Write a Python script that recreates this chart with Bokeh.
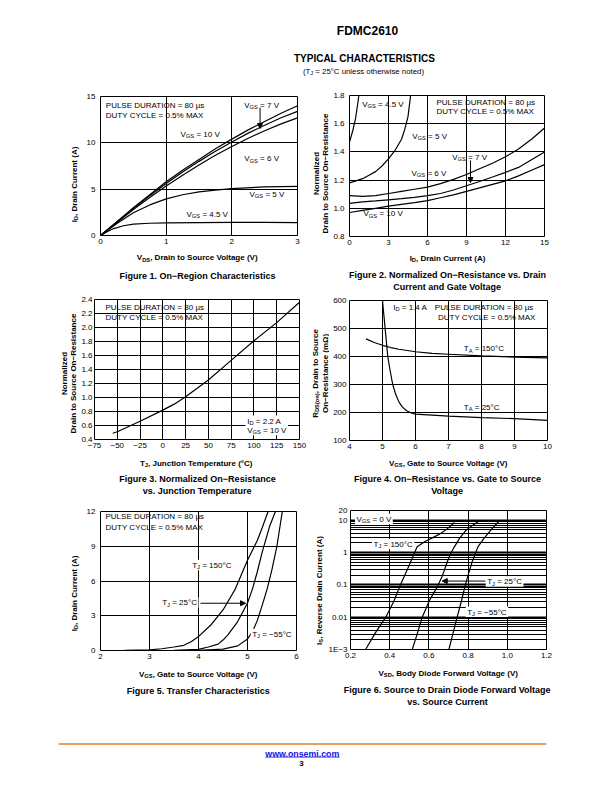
import math
from bokeh.plotting import figure
from bokeh.layouts import column, row
from bokeh.models import (Label, Arrow, NormalHead, FixedTicker, BoxAnnotation, Grid,
                          Range1d, PrintfTickFormatter, BasicTickFormatter, Span)
from bokeh.embed import file_html
from bokeh.resources import INLINE

FONT = "Liberation Sans"

# ---------------- data ----------------
# Figure 1: On-Region Characteristics (VDS in V, ID in A)
f1_vds = [0, 0.25, 0.5, 0.75, 1.0, 1.25, 1.5, 1.75, 2.0, 2.25, 2.5, 2.75, 3.0]
f1_id_vgs10 = [0, 1.5, 3.0, 4.4, 5.8, 7.05, 8.2, 9.35, 10.4, 11.4, 12.3, 13.2, 14.0]
f1_id_vgs7 = [0, 1.45, 2.9, 4.3, 5.6, 6.85, 8.0, 9.1, 10.1, 11.05, 11.9, 12.7, 13.4]
f1_id_vgs6 = [0, 1.4, 2.8, 4.1, 5.35, 6.5, 7.6, 8.65, 9.6, 10.5, 11.3, 12.05, 12.7]
f1_vds_5 = [0, 0.25, 0.5, 0.75, 1.0, 1.25, 1.5, 1.75, 2.0, 2.5, 3.0]
f1_id_vgs5 = [0, 1.3, 2.45, 3.3, 3.95, 4.4, 4.7, 4.9, 5.05, 5.25, 5.3]
f1_vds_45 = [0, 0.1, 0.2, 0.35, 0.5, 0.75, 1.0, 1.5, 2.0, 2.5, 3.0]
f1_id_vgs45 = [0, 0.4, 0.75, 1.05, 1.22, 1.32, 1.36, 1.4, 1.42, 1.42, 1.4]
f1_xticks = [0, 1, 2, 3]
f1_yticks = [0, 5, 10, 15]
f1_arrow = [2.43, 13.8, 2.43, 11.55]

# Figure 2: normalized RDS(on) vs ID
f2_id_45 = [0, 0.25, 0.46, 0.6, 0.72]
f2_r_45 = [1.47, 1.55, 1.635, 1.72, 1.80]
f2_id_5 = [0, 0.5, 1.0, 1.5, 2.0, 2.5, 3.0, 3.5, 4.0, 4.25, 4.5, 4.7]
f2_r_5 = [1.18, 1.195, 1.21, 1.235, 1.26, 1.30, 1.35, 1.41, 1.49, 1.56, 1.65, 1.80]
f2_id = [0, 1, 2, 3, 4, 5, 6, 7, 8, 9, 10, 11, 12, 13, 14, 15]
f2_r_6 = [1.09, 1.085, 1.09, 1.105, 1.12, 1.135, 1.15, 1.175, 1.205, 1.24, 1.28, 1.32, 1.365, 1.42, 1.49, 1.57]
f2_r_7 = [1.035, 1.045, 1.052, 1.06, 1.068, 1.078, 1.09, 1.105, 1.13, 1.16, 1.19, 1.222, 1.255, 1.29, 1.345, 1.40]
f2_r_10 = [0.97, 0.985, 1.0, 1.015, 1.028, 1.04, 1.055, 1.075, 1.095, 1.12, 1.145, 1.17, 1.195, 1.23, 1.27, 1.31]
f2_xticks = [0, 3, 6, 9, 12, 15]
f2_yticks = [0.8, 1.0, 1.2, 1.4, 1.6, 1.8]
f2_arrow = [9.31, 1.339, 9.31, 1.183]

# Figure 3: normalized RDS(on) vs TJ
f3_tj = [-55, -50, -37.5, -25, 0, 12.5, 25, 50, 75, 100, 125, 150]
f3_r = [0.49, 0.51, 0.585, 0.66, 0.82, 0.905, 1.01, 1.25, 1.53, 1.81, 2.07, 2.36]
f3_xticks = [-75, -50, -25, 0, 25, 50, 75, 100, 125, 150]
f3_xlabels = ["−75", "−50", "−25", "0", "25", "50", "75", "100", "125", "150"]
f3_yticks = [0.4, 0.6, 0.8, 1.0, 1.2, 1.4, 1.6, 1.8, 2.0, 2.2, 2.4]

# Figure 4: RDS(on) (mOhm) vs VGS
f4_vgs_25 = [5.0, 5.04, 5.08, 5.12, 5.16, 5.23, 5.31, 5.4, 5.5, 5.6, 5.72, 5.85, 6.0, 7.0, 8.0, 9.0, 10.0]
f4_r_25 = [600, 550, 500, 450, 400, 350, 300, 265, 237, 220, 207, 199, 194, 187, 182, 178, 172]
f4_vgs_150 = [4.5, 4.75, 5.0, 5.25, 5.5, 6.0, 6.5, 7.0, 8.0, 9.0, 10.0]
f4_r_150 = [463, 450, 440, 432, 426, 417, 411, 408, 402, 398, 395]
f4_xticks = [4, 5, 6, 7, 8, 9, 10]
f4_yticks = [100, 200, 300, 400, 500, 600]

# Figure 5: transfer characteristics
f5_vgs_150 = [2.0, 2.5, 3.0, 3.25, 3.5, 3.7, 3.85, 4.0, 4.25, 4.5, 4.75, 5.0, 5.2, 5.3, 5.42]
f5_id_150 = [0, 0.01, 0.05, 0.15, 0.3, 0.45, 0.75, 1.2, 2.2, 3.5, 5.3, 7.8, 9.5, 10.6, 12.0]
f5_vgs_25 = [2.0, 3.0, 3.5, 4.0, 4.2, 4.4, 4.5, 4.6, 4.8, 5.0, 5.1, 5.2, 5.3, 5.45, 5.57]
f5_id_25 = [0, 0.0, 0.02, 0.1, 0.3, 0.55, 0.9, 1.35, 2.5, 4.1, 5.3, 6.8, 8.5, 10.7, 12.0]
f5_vgs_m55 = [2.0, 4.0, 4.5, 4.8, 5.0, 5.1, 5.2, 5.3, 5.4, 5.5, 5.6, 5.71]
f5_id_m55 = [0, 0.02, 0.12, 0.4, 1.0, 1.6, 2.6, 3.9, 5.3, 7.0, 9.0, 12.0]
f5_xticks = [2, 3, 4, 5, 6]
f5_yticks = [0, 3, 6, 9, 12]
f5_arrow = [4.04, 4.08, 4.96, 4.08]

# Figure 6: body diode forward voltage (log IS)
f6_vsd_150 = [0.277, 0.33, 0.38, 0.42, 0.455, 0.49, 0.52, 0.54, 0.58, 0.62, 0.66, 0.70, 0.73]
f6_is_150 = [0.001, 0.0035, 0.01, 0.03, 0.1, 0.3, 0.8, 1.5, 2.2, 2.9, 3.9, 5.8, 8.5]
f6_vsd_25 = [0.515, 0.54, 0.566, 0.605, 0.642, 0.67, 0.693, 0.71, 0.727, 0.757, 0.787, 0.82, 0.855]
f6_is_25 = [0.001, 0.003, 0.01, 0.035, 0.085, 0.2, 0.5, 0.9, 1.4, 2.8, 4.7, 6.8, 9.3]
f6_vsd_m55 = [0.702, 0.722, 0.744, 0.765, 0.783, 0.80, 0.82, 0.85, 0.88, 0.92, 0.957]
f6_is_m55 = [0.001, 0.003, 0.01, 0.03, 0.085, 0.2, 0.5, 1.5, 2.7, 5.3, 9.3]
f6_xticks = [0.2, 0.4, 0.6, 0.8, 1.0, 1.2]
f6_yticks = [0.001, 0.01, 0.1, 1, 10, 20]
f6_ylabels = ["1E−3", "0.01", "0.1", "1", "10", "20"]
f6_decades = [0.001, 0.01, 0.1, 1, 10]
f6_minor = [k * d for d in f6_decades for k in range(1, 10) if k * d <= 20] + [20]
f6_arrow = [0.889, 0.131, 0.668, 0.131]

# ---------------- text metrics (Arial / Liberation Sans) ----------------
_U = "ABCDEFGHIJKLMNOPQRSTUVWXYZ"
_L = "abcdefghijklmnopqrstuvwxyz"
REG = dict(zip(_U, [667, 667, 722, 722, 667, 611, 778, 722, 278, 500, 667, 556, 833, 722, 778, 667, 778, 722, 667, 611, 722, 667, 944, 667, 667, 611]))
REG.update(zip(_L, [556, 556, 500, 556, 556, 278, 556, 556, 222, 222, 500, 222, 833, 556, 556, 556, 556, 333, 500, 278, 556, 500, 722, 500, 500, 500]))
BOLD = dict(zip(_U, [722, 722, 722, 722, 667, 611, 778, 722, 278, 556, 722, 611, 833, 722, 778, 667, 778, 722, 667, 611, 722, 667, 944, 667, 667, 611]))
BOLD.update(zip(_L, [556, 611, 556, 611, 556, 333, 611, 611, 278, 278, 556, 278, 889, 611, 611, 611, 611, 389, 556, 333, 611, 556, 778, 556, 556, 500]))
for _t in (REG, BOLD):
    _t.update({" ": 278, "(": 333, ")": 333, ",": 278, ".": 278, "%": 889, "=": 584,
               "°": 400, "µ": 576, "−": 584, "Ω": 768, "-": 333, "/": 278})
    _t.update({d: 556 for d in "0123456789"})

BASE_K = 0.09   # anchor offset (em) from cap centre, as the renderer places the baseline
SUB_K = 0.2     # subscript drop (em of main size)
SUB_S = 0.72    # subscript scale


def tw(s, fs, bold):
    t = BOLD if bold else REG
    return sum(t.get(c, 556) for c in s) / 1000.0 * fs


def parse(s):
    parts, buf, i = [], "", 0
    while i < len(s):
        if s.startswith("_{", i):
            if buf:
                parts.append((buf, False))
                buf = ""
            j = s.index("}", i)
            parts.append((s[i + 2:j], True))
            i = j + 1
        else:
            buf += s[i]
            i += 1
    if buf:
        parts.append((buf, False))
    return parts


PANES = []


class Pane:
    """Places text in page pixel coordinates, relative to a figure's frame."""

    def __init__(self, p, left, bottom):
        self.p, self.left, self.bottom = p, left, bottom
        self.boxes, self.labels = [], []
        PANES.append(self)

    def _lab(self, t, sx, sy, f, style, angle, color):
        self.labels.append(Label(x=sx, y=sy, x_units="screen", y_units="screen", angle=angle,
                                 text=t, text_font=FONT, text_font_size="%.2fpx" % f,
                                 text_font_style=style, text_align="left",
                                 text_baseline="alphabetic", text_color=color))

    def text(self, s, px, py, fs=8, bold=False, align="left", angle=0, bg=False, color="black"):
        parts = parse(s)
        ws = [tw(t, fs * (SUB_S if b else 1), bold) for t, b in parts]
        W = sum(ws)
        if bg and angle == 0:
            st = px - (W / 2 if align == "center" else 0)
            self.boxes.append(BoxAnnotation(
                left=st - 1.5 - self.left, right=st + W + 1.5 - self.left,
                top=self.bottom - (py - 0.62 * fs), bottom=self.bottom - (py + 0.68 * fs),
                left_units="screen", right_units="screen", top_units="screen", bottom_units="screen",
                fill_color="white", fill_alpha=1.0, line_color=None))
        style = "bold" if bold else "normal"
        pos = px - (W / 2 if align == "center" else 0) if angle == 0 else py + (W / 2 if align == "center" else 0)
        base = (py if angle == 0 else px) + BASE_K * fs
        for (t, b), w in zip(parts, ws):
            f = fs * SUB_S if b else fs
            lead = tw(t[:len(t) - len(t.lstrip(" "))], f, bold)
            tt = t.strip(" ")
            off = base + (SUB_K * fs if b else 0)
            if tt:
                if angle == 0:
                    self._lab(tt, pos + lead - self.left, self.bottom - off, f, style, 0, color)
                else:
                    self._lab(tt, off - self.left, self.bottom - (pos - lead), f, style, math.pi / 2, color)
            pos = pos + w if angle == 0 else pos - w

    def finish(self):
        for b in self.boxes:
            self.p.add_layout(b)
        for l in self.labels:
            self.p.add_layout(l)


def text_fig(x0, y0, w, h, fl=0, fw=None):
    fw = w - fl if fw is None else fw
    p = figure(x_range=Range1d(0, 1), y_range=Range1d(0, h), frame_width=fw, frame_height=h,
               min_border_left=fl, min_border_right=w - fl - fw, min_border_top=0, min_border_bottom=0,
               x_axis_location=None, y_axis_location=None, output_backend="svg", toolbar_location=None)
    p.outline_line_color = None
    p.grid.visible = False
    p.background_fill_color = "white"
    p.border_fill_color = "white"
    return Pane(p, x0 + fl, y0 + h)


def make_cell(x0, y0, Wc, Hc, L1, frame_left, ft, fw, fh, xr, yr, xticks, yticks, ylog=False, ystand=5):
    fb = 14
    fl = frame_left - (x0 + L1)
    wch = Wc - L1
    hch = ft + fh + fb
    p = figure(x_range=Range1d(*xr), y_range=Range1d(*yr), frame_width=fw, frame_height=fh,
               min_border_left=fl, min_border_right=wch - fl - fw, min_border_top=ft,
               min_border_bottom=fb, y_axis_type="log" if ylog else "linear",
               output_backend="svg", toolbar_location=None)
    p.outline_line_color = "black"
    p.outline_line_width = 1
    p.background_fill_color = "white"
    p.border_fill_color = "white"
    p.xaxis.ticker = FixedTicker(ticks=xticks)
    p.yaxis.ticker = FixedTicker(ticks=yticks)
    p.grid.grid_line_color = "black"
    p.grid.grid_line_width = 1
    p.grid.grid_line_alpha = 1.0
    for ax in p.axis:
        ax.axis_line_color = None
        ax.major_tick_line_color = None
        ax.minor_tick_line_color = None
        ax.major_tick_out = 0
        ax.major_tick_in = 0
        ax.minor_tick_out = 0
        ax.minor_tick_in = 0
        ax.major_label_text_font = FONT
        ax.major_label_text_font_size = "8px"
        ax.major_label_text_color = "black"
    p.xaxis.major_label_standoff = 3
    p.yaxis.major_label_standoff = ystand
    chart = Pane(p, frame_left, y0 + ft + fh)
    ylab = text_fig(x0, y0, L1, hch)
    below = text_fig(x0, y0 + hch, Wc, Hc - hch)
    lay = column(row(ylab.p, p), below.p)
    return lay, chart, ylab, below


def curve(pane, x, y):
    pane.p.line(x, y, line_color="black", line_width=1.2)


def arrow(pane, a):
    pane.p.add_layout(Arrow(end=NormalHead(size=5, line_color="black", fill_color="black", line_width=1),
                            x_start=a[0], y_start=a[1], x_end=a[2], y_end=a[3],
                            line_color="black", line_width=1))


PD = "PULSE DURATION = 80 µs"
DC = "DUTY CYCLE = 0.5% MAX"
LW, RX, RW = 308, 308, 296

# ---------------- header ----------------
HD = text_fig(0, 0, 604, 84)
HD.text("FDMC2610", 309, 29.5, fs=12, bold=True, align="center")
HD.text("TYPICAL CHARACTERISTICS", 306, 57.5, fs=10, bold=True, align="center")
HD.text("(T_{J} = 25°C unless otherwise noted)", 305, 70, fs=7.8, align="center")

# ---------------- Figure 1 ----------------
L1_, A, Ay, Ab = make_cell(0, 84, LW, 210, 80, 100, 12, 197, 139, (0, 3), (0, 15), f1_xticks, f1_yticks)
curve(A, f1_vds, f1_id_vgs10)
curve(A, f1_vds, f1_id_vgs7)
curve(A, f1_vds, f1_id_vgs6)
curve(A, f1_vds_5, f1_id_vgs5)
curve(A, f1_vds_45, f1_id_vgs45)
arrow(A, f1_arrow)
A.text(PD, 105.3, 104.3)
A.text(DC, 105.3, 114.3)
A.text("V_{GS} = 7 V", 243.7, 104.3)
A.text("V_{GS} = 10 V", 180, 133)
A.text("V_{GS} = 6 V", 243.7, 157.7)
A.text("V_{GS} = 5 V", 249, 193)
A.text("V_{GS} = 4.5 V", 186, 213)
Ay.text("I_{D}, Drain Current (A)", 73.5, 172, bold=True, align="center", angle=90)
Ab.text("V_{DS}, Drain to Source Voltage (V)", 197, 256.7, bold=True, align="center")
Ab.text("Figure 1. On−Region Characteristics", 197, 274.3, fs=9, bold=True, align="center")

# ---------------- Figure 2 ----------------
L2_, B, By, Bb = make_cell(RX, 84, RW, 210, 22, 349, 11, 195, 141, (0, 15), (0.8, 1.8), f2_xticks, f2_yticks)
B.p.yaxis.formatter = PrintfTickFormatter(format="%.1f")
curve(B, f2_id_45, f2_r_45)
curve(B, f2_id_5, f2_r_5)
curve(B, f2_id, f2_r_6)
curve(B, f2_id, f2_r_7)
curve(B, f2_id, f2_r_10)
arrow(B, f2_arrow)
B.text("V_{GS} = 4.5 V", 361.7, 103.3)
B.text(PD, 436, 101)
B.text(DC, 436, 110.5)
B.text("V_{GS} = 5 V", 411.7, 135)
B.text("V_{GS} = 7 V", 451.7, 156)
B.text("V_{GS} = 6 V", 411, 172.3)
B.text("V_{GS} = 10 V", 363, 212.7)
By.text("Normalized", 315, 162, bold=True, align="center", angle=90)
By.text("Drain to Source On−Resistance", 324.5, 162, bold=True, align="center", angle=90)
Bb.text("I_{D}, Drain Current (A)", 447, 257, bold=True, align="center")
Bb.text("Figure 2. Normalized On−Resistance vs. Drain", 447, 274, fs=9, bold=True, align="center")
Bb.text("Current and Gate Voltage", 447, 286, fs=9, bold=True, align="center")

# ---------------- Figure 3 ----------------
L3_, C, Cy, Cb = make_cell(0, 294, LW, 206, 77, 94, 5, 205, 140, (-75, 150), (0.4, 2.4), f3_xticks, f3_yticks,
                           ystand=2)
C.p.yaxis.formatter = PrintfTickFormatter(format="%.1f")
C.p.xaxis.major_label_overrides = dict(zip(f3_xticks, f3_xlabels))
curve(C, f3_tj, f3_r)
C.text(PD, 105, 306)
C.text(DC, 105, 316.7)
C.text("I_{D} = 2.2 A", 246.7, 420, bg=True)
C.text("V_{GS} = 10 V", 246.7, 429.3, bg=True)
Cy.text("Normalized", 63.5, 368, bold=True, align="center", angle=90)
Cy.text("Drain to Source On−Resistance", 72.2, 368, bold=True, align="center", angle=90)
Cb.text("T_{J}, Junction Temperature (°C)", 196, 462, bold=True, align="center")
Cb.text("Figure 3. Normalized On−Resistance", 197, 478, fs=9, bold=True, align="center")
Cb.text("vs. Junction Temperature", 197, 490, fs=9, bold=True, align="center")

# ---------------- Figure 4 ----------------
L4_, D, Dy, Db = make_cell(RX, 294, RW, 206, 21, 349, 6, 198, 140, (4, 10), (100, 600), f4_xticks, f4_yticks,
                           ystand=3)
curve(D, f4_vgs_25, f4_r_25)
curve(D, f4_vgs_150, f4_r_150)
D.text("I_{D} = 1.4 A", 392.7, 306)
D.text(PD, 434.3, 306)
D.text(DC, 437.5, 316.7)
D.text("T_{A} = 150°C", 463.3, 347.7)
D.text("T_{A} = 25°C", 463.3, 406)
Dy.text("R_{DS(on)}, Drain to Source", 314.5, 367, bold=True, align="center", angle=90)
Dy.text("On−Resistance (mΩ)", 324, 367, bold=True, align="center", angle=90)
Db.text("V_{GS}, Gate to Source Voltage (V)", 448, 462, bold=True, align="center")
Db.text("Figure 4. On−Resistance vs. Gate to Source", 447, 478, fs=9, bold=True, align="center")
Db.text("Voltage", 447, 490, fs=9, bold=True, align="center")

# ---------------- Figure 5 ----------------
L5_, E, Ey, Eb = make_cell(0, 500, LW, 212, 80, 100, 11, 196, 139, (2, 6), (0, 12), f5_xticks, f5_yticks)
curve(E, f5_vgs_150, f5_id_150)
curve(E, f5_vgs_25, f5_id_25)
curve(E, f5_vgs_m55, f5_id_m55)
E.text(PD, 105, 515)
E.text(DC, 105, 526)
E.text("T_{J} = 150°C", 191.7, 564.3, bg=True)
E.text("T_{J} = 25°C", 161.7, 601.7, bg=True)
arrow(E, f5_arrow)
E.text("T_{J} = −55°C", 251.7, 633.3, bg=True)
Ey.text("I_{D}, Drain Current (A)", 73.5, 582, bold=True, align="center", angle=90)
Eb.text("V_{GS}, Gate to Source Voltage (V)", 198, 673, bold=True, align="center")
Eb.text("Figure 5. Transfer Characteristics", 198, 690, fs=9, bold=True, align="center")

# ---------------- Figure 6 ----------------
L6_, F, Fy, Fb = make_cell(RX, 500, RW, 212, 16, 350, 10, 196, 139, (0.2, 1.2), (0.001, 20), f6_xticks, f6_yticks,
                           ylog=True, ystand=3)
F.p.xaxis.formatter = PrintfTickFormatter(format="%.1f")
F.p.yaxis.formatter = BasicTickFormatter()
F.p.yaxis.major_label_overrides = dict(zip(f6_yticks, f6_ylabels))
F.p.ygrid.ticker = FixedTicker(ticks=f6_minor)
F.p.add_layout(Grid(dimension=1, ticker=FixedTicker(ticks=f6_decades), grid_line_color="black",
                    grid_line_width=2))
curve(F, f6_vsd_150, f6_is_150)
curve(F, f6_vsd_25, f6_is_25)
curve(F, f6_vsd_m55, f6_is_m55)
F.text("V_{GS} = 0 V", 356, 518.3, bg=True)
F.text("T_{J} = 150°C", 373, 543.3, bg=True)
F.text("T_{J} = 25°C", 486.7, 580.7, bg=True)
arrow(F, f6_arrow)
F.text("T_{J} = −55°C", 466.7, 611, bg=True)
Fy.text("I_{S}, Reverse Drain Current (A)", 318.3, 580, bold=True, align="center", angle=90)
Fb.text("V_{SD}, Body Diode Forward Voltage (V)", 448, 672, bold=True, align="center")
Fb.text("Figure 6. Source to Drain Diode Forward Voltage", 447, 689, fs=9, bold=True, align="center")
Fb.text("vs. Source Current", 447, 701, fs=9, bold=True, align="center")

# ---------------- footer ----------------
FT = text_fig(0, 712, 604, 72, fl=58, fw=488)
FT.p.add_layout(Span(location=40.5, dimension="width", line_color="#DF7F36", line_width=1.6))
FT.text("www.onsemi.com", 302, 752.3, fs=8.8, bold=True, align="center", color="#1414E6")
_uw = tw("www.onsemi.com", 8.8, True)
FT.p.add_layout(BoxAnnotation(left=302 - _uw / 2 - 58, right=302 + _uw / 2 - 58, top=784 - 756.2,
                              bottom=784 - 757.1, left_units="screen", right_units="screen",
                              top_units="screen", bottom_units="screen",
                              fill_color="#1414E6", fill_alpha=1.0, line_color=None))
FT.text("3", 301, 762.3, fs=8, bold=True, align="center")

for _p in PANES:
    _p.finish()

layout = column(HD.p, row(L1_, L2_), row(L3_, L4_), row(L5_, L6_), FT.p)
open("out.html", "w").write(file_html(layout, INLINE, title="FDMC2610"))
